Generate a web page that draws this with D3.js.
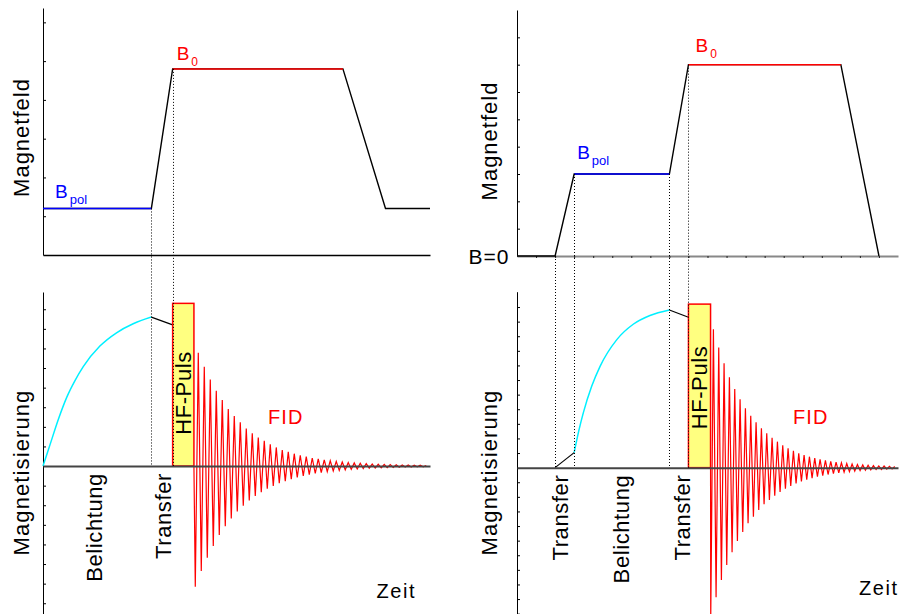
<!DOCTYPE html>
<html lang="de">
<head>
<meta charset="UTF-8">
<title>Magnetfeld und Magnetisierung</title>
<style>
  body { margin: 0; background: #fff; }
  text { font-family: "Liberation Sans", Arial, sans-serif; }
</style>
</head>
<body>
<script src="https://cdn.jsdelivr.net/npm/d3@7"></script>
<script>
// time runs 0..100 (arbitrary units) in every panel

// left: polarisation field, then B0
var fieldTimeL = [0, 28, 33.5, 77.5, 88.5, 100];
var fieldL     = [1.2, 1.2, 4.8, 4.8, 1.2, 1.2];
// right: from B=0 up to Bpol, then B0
var fieldTimeR = [0, 10, 15, 40, 45, 85, 95];
var fieldR     = [0, 0, 3, 3, 7, 7, 0];

// magnetisation build-up (cyan) and transfer (black)
var buildTimeL = [0, 1.8, 4.0, 6.1, 8.3, 10.4, 14.7, 19.0, 23.3, 28.0];
var buildMagL  = [0, 1.08, 2.40, 3.49, 4.37, 5.07, 6.12, 6.80, 7.26, 7.6];
var transferTimeL = [[28, 33.5]];
var transferMagL  = [[7.6, 7.2]];

var buildTimeR = [15, 16.2, 17.4, 19.6, 21.8, 26.2, 30.5, 34.9, 40];
var buildMagR  = [1.03, 2.5, 3.75, 5.57, 6.94, 8.77, 9.82, 10.42, 10.8];
var transferTimeR = [[10, 15], [40, 45]];
var transferMagR  = [[0, 1.03], [10.8, 10.3]];

// HF pulse: start, end, height
var pulseL = [33.5, 39.0, 8.3];
var pulseR = [45, 50.8, 11.2];

// FID extrema (troughs negative, peaks positive), first trough time, half period
var fidTroughsL = [6.16, 5.36, 4.68, 4.08, 3.52, 3.07, 2.67, 2.32, 2.02, 1.76, 1.53, 1.33, 1.16,
  1.01, 0.88, 0.77, 0.67, 0.58, 0.5, 0.44, 0.38, 0.33, 0.29, 0.25, 0.22, 0.19, 0.17, 0.15,
  0.13, 0.11, 0.1, 0.09, 0.08, 0.07, 0.06, 0.05, 0.05, 0.04, 0.04];
var fidPeaksL = [5.78, 5.07, 4.42, 3.84, 3.37, 2.91, 2.55, 2.23, 1.92, 1.67, 1.46, 1.29, 1.11,
  0.95, 0.82, 0.72, 0.63, 0.55, 0.48, 0.41, 0.36, 0.31, 0.27, 0.24, 0.21, 0.18, 0.16, 0.14,
  0.12, 0.1, 0.09, 0.08, 0.07, 0.06, 0.05, 0.05, 0.04, 0.04, 0.03];
var fidTimingL = [39.35, 0.775];

var fidTroughsR = [10.3, 8.88, 7.69, 6.67, 5.8, 5.02, 4.41, 3.81, 3.36, 2.9, 2.51, 2.21, 1.92,
  1.67, 1.45, 1.26, 1.09, 0.95, 0.83, 0.72, 0.62, 0.54, 0.47, 0.41, 0.36, 0.31, 0.27, 0.23,
  0.2, 0.18, 0.15, 0.13, 0.12, 0.1, 0.09];
var fidPeaksR = [9.47, 8.22, 7.15, 6.19, 5.39, 4.68, 4.06, 3.56, 3.1, 2.69, 2.35, 2.05, 1.78,
  1.53, 1.32, 1.16, 0.98, 0.87, 0.75, 0.65, 0.57, 0.5, 0.43, 0.38, 0.33, 0.28, 0.25, 0.21,
  0.19, 0.16, 0.14, 0.12, 0.11, 0.09, 0.08];
var fidTimingR = [50.85, 0.70];

// dotted guides: time, field value where they start
var guideTimeL  = [28, 33.5];
var guideFieldL = [1.2, 4.8];
var guideTimeR  = [10, 15, 40, 45];
var guideFieldR = [0, 3, 3, 7];

// phase labels under the magnetisation axis
var phaseL = ["Belichtung", "Transfer"];
var phaseTimeL = [13.1, 31];
var phaseR = ["Transfer", "Belichtung", "Transfer"];
var phaseTimeR = [11.3, 27.3, 43.3];

// y ticks (no labels)
var fieldTicksL = [1, 2, 3, 4, 5, 6];
var fieldTicksR = [1, 2, 3, 4, 5, 6, 7, 8];
var magTicksL = [-7, -6, -5, -4, -3, -2, -1, 1, 2, 3, 4, 5, 6, 7, 8];
var magTicksR = [-10, -9, -8, -7, -6, -5, -4, -3, -2, -1, 1, 2, 3, 4, 5, 6, 7, 8, 9, 10, 11];
var timeTicksR = [5, 10, 15, 20, 25, 30, 35, 40, 45, 50, 55, 60, 65, 70, 75, 80, 85, 90, 95];

var w = 900, h = 614;

var svg = d3.select("body")
    .append("svg")
    .attr("width", w)
    .attr("height", h);

function vtext(x, y, str, anchor, size, spacing, fill) {
    svg.append("text")
        .attr("transform", "translate(" + x + "," + y + ") rotate(-90)")
        .attr("text-anchor", anchor)
        .attr("font-size", size + "px")
        .attr("letter-spacing", spacing)
        .attr("fill", fill || "#000")
        .text(str);
}

function htext(x, y, str, anchor, size, spacing, fill) {
    return svg.append("text")
        .attr("x", x)
        .attr("y", y)
        .attr("text-anchor", anchor)
        .attr("font-size", size + "px")
        .attr("letter-spacing", spacing)
        .attr("fill", fill || "#000")
        .text(str);
}

function bLabel(x, y, sub, subSize, subDy, fill) {
    var t = htext(x, y, "B", "start", 19, 0, fill);
    t.append("tspan").attr("font-size", subSize + "px").attr("dx", 2).attr("dy", subDy).text(sub);
}

function drawSide(s) {
    var x = d3.scaleLinear().domain([0, 100]).range(s.xRange);
    var yB = d3.scaleLinear().domain(s.fieldDomain).range(s.fieldRange);
    var yM = d3.scaleLinear().domain(s.magDomain).range(s.magRange);
    var x0 = s.xRange[0];

    // ---- top: magnetic field ----
    svg.append("g")
        .attr("transform", "translate(" + x0 + ",0)")
        .call(d3.axisLeft(yB).tickValues(s.fieldTicks).tickSize(-3).tickSizeOuter(0).tickFormat(""))
        .call(function(g) { g.selectAll("path, line").attr("stroke", "#000"); });

    var xTop = svg.append("g")
        .attr("transform", "translate(0," + yB(0) + ")")
        .call(d3.axisBottom(x).tickValues(s.timeTicks).tickSize(2).tickSizeOuter(0).tickFormat(""));
    xTop.select(".domain").attr("stroke", s.timeTicks.length ? "#888" : "#000")
        .attr("stroke-width", s.timeTicks.length ? 2 : 1.3);
    xTop.selectAll(".tick line").attr("stroke", "#222");

    var field = d3.zip(s.fieldTime, s.field);
    var line = d3.line().x(function(d) { return x(d[0]); }).y(function(d) { return yB(d[1]); });

    svg.append("path").attr("d", line(field))
        .attr("fill", "none").attr("stroke", "#000").attr("stroke-width", 1.4);
    svg.append("path").attr("d", line(field.slice(s.blue, s.blue + 2)))
        .attr("fill", "none").attr("stroke", "#0000ff").attr("stroke-width", 1.5);
    svg.append("path").attr("d", line(field.slice(s.red, s.red + 2)))
        .attr("fill", "none").attr("stroke", "#ff0000").attr("stroke-width", 1.5);

    var bp = field[s.blue], b0 = field[s.red];
    bLabel(x(bp[0]) + s.bpolOff[0], yB(bp[1]) + s.bpolOff[1], "pol", 13, 6, "#0000ff");
    bLabel(x(b0[0]) + s.b0Off[0], yB(b0[1]) + s.b0Off[1], "0", 12, 6, "#ff0000");

    // ---- bottom: magnetisation ----
    svg.append("g")
        .attr("transform", "translate(" + x0 + ",0)")
        .call(d3.axisLeft(yM).tickValues(s.magTicks).tickSize(-3).tickSizeOuter(0).tickFormat(""))
        .call(function(g) { g.selectAll("path, line").attr("stroke", "#000"); });

    var mline = d3.line().x(function(d) { return x(d[0]); }).y(function(d) { return yM(d[1]); });

    svg.append("path")
        .attr("d", mline.curve(d3.curveMonotoneX)(d3.zip(s.buildTime, s.buildMag)))
        .attr("fill", "none").attr("stroke", "#00f0ff").attr("stroke-width", 1.5);
    mline.curve(d3.curveLinear);

    svg.selectAll(null)
        .data(s.transferTime)
        .enter()
        .append("path")
        .attr("d", function(d, i) { return mline(d3.zip(d, s.transferMag[i])); })
        .attr("fill", "none").attr("stroke", "#000").attr("stroke-width", 1.2);

    svg.append("rect")
        .attr("x", x(s.pulse[0]))
        .attr("y", yM(s.pulse[2]))
        .attr("width", x(s.pulse[1]) - x(s.pulse[0]))
        .attr("height", yM(0) - yM(s.pulse[2]))
        .attr("fill", "#ffff80")
        .attr("stroke", "#ff0000")
        .attr("stroke-width", 1.5);

    // FID: alternate trough / peak
    var fid = [[s.pulse[1], 0]];
    s.troughs.forEach(function(v, k) {
        fid.push([s.fidTiming[0] + 2 * k * s.fidTiming[1], -v]);
        if (k < s.peaks.length) fid.push([s.fidTiming[0] + (2 * k + 1) * s.fidTiming[1], s.peaks[k]]);
    });
    svg.append("path").attr("d", mline(fid))
        .attr("fill", "none").attr("stroke", "#ff0000").attr("stroke-width", 1.2);

    svg.append("g")
        .attr("transform", "translate(0," + yM(0) + ")")
        .call(d3.axisBottom(x).tickValues([]).tickSizeOuter(0))
        .select(".domain").attr("stroke", "#444").attr("stroke-width", 2);

    // dotted guides from field curve down to the magnetisation axis
    svg.selectAll(null)
        .data(s.guideTime)
        .enter()
        .append("line")
        .attr("x1", function(d) { return Math.round(x(d)) + 0.5; })
        .attr("x2", function(d) { return Math.round(x(d)) + 0.5; })
        .attr("y1", function(d, i) { return yB(s.guideField[i]); })
        .attr("y2", yM(0))
        .attr("stroke", "#000")
        .attr("stroke-width", 1)
        .attr("stroke-dasharray", "1,2");

    // texts
    vtext(s.yTitleX, s.fieldTitleY, "Magnetfeld", "middle", 22, 1);
    vtext(s.yTitleX, s.magTitleY, "Magnetisierung", "middle", 22, 1.1);
    s.phase.forEach(function(p, i) {
        vtext(x(s.phaseTime[i]) + 8, yM(0) + 7, p, "end", 22, 0.6);
    });
    vtext(x((s.pulse[0] + s.pulse[1]) / 2) + 8, s.pulseTextY, "HF-Puls", "middle", 22, 0.6);
    htext(s.fidPos[0], s.fidPos[1], "FID", "start", 20, 1.1, "#ff0000");
    htext(s.zeitPos[0], s.zeitPos[1], "Zeit", "start", 20, 1.6);
}

drawSide({
    xRange: [43, 430],
    fieldDomain: [0, 6.37], fieldRange: [255, 8],
    magDomain: [-7.6, 8.88], magRange: [615, 292],
    fieldTicks: fieldTicksL, magTicks: magTicksL, timeTicks: [],
    fieldTime: fieldTimeL, field: fieldL, blue: 0, red: 2,
    bpolOff: [12, -10], b0Off: [4, -9],
    buildTime: buildTimeL, buildMag: buildMagL,
    transferTime: transferTimeL, transferMag: transferMagL,
    pulse: pulseL, troughs: fidTroughsL, peaks: fidPeaksL, fidTiming: fidTimingL,
    guideTime: guideTimeL, guideField: guideFieldL,
    phase: phaseL, phaseTime: phaseTimeL,
    yTitleX: 29, fieldTitleY: 137.5, magTitleY: 472.5, pulseTextY: 393,
    fidPos: [268, 424], zeitPos: [376.5, 598]
});

drawSide({
    xRange: [517, 898],
    fieldDomain: [0, 9], fieldRange: [256, 10],
    magDomain: [-10.4, 12.05], magRange: [619.5, 291.7],
    fieldTicks: fieldTicksR, magTicks: magTicksR, timeTicks: timeTicksR,
    fieldTime: fieldTimeR, field: fieldR, blue: 2, red: 4,
    bpolOff: [3, -15], b0Off: [7, -12.5],
    buildTime: buildTimeR, buildMag: buildMagR,
    transferTime: transferTimeR, transferMag: transferMagR,
    pulse: pulseR, troughs: fidTroughsR, peaks: fidPeaksR, fidTiming: fidTimingR,
    guideTime: guideTimeR, guideField: guideFieldR,
    phase: phaseR, phaseTime: phaseTimeR,
    yTitleX: 497, fieldTitleY: 141, magTitleY: 472.5, pulseTextY: 387.5,
    fidPos: [793, 423.5], zeitPos: [859, 595]
});

htext(509.5, 263.5, "B=0", "end", 21, 1);
</script>
</body>
</html>
